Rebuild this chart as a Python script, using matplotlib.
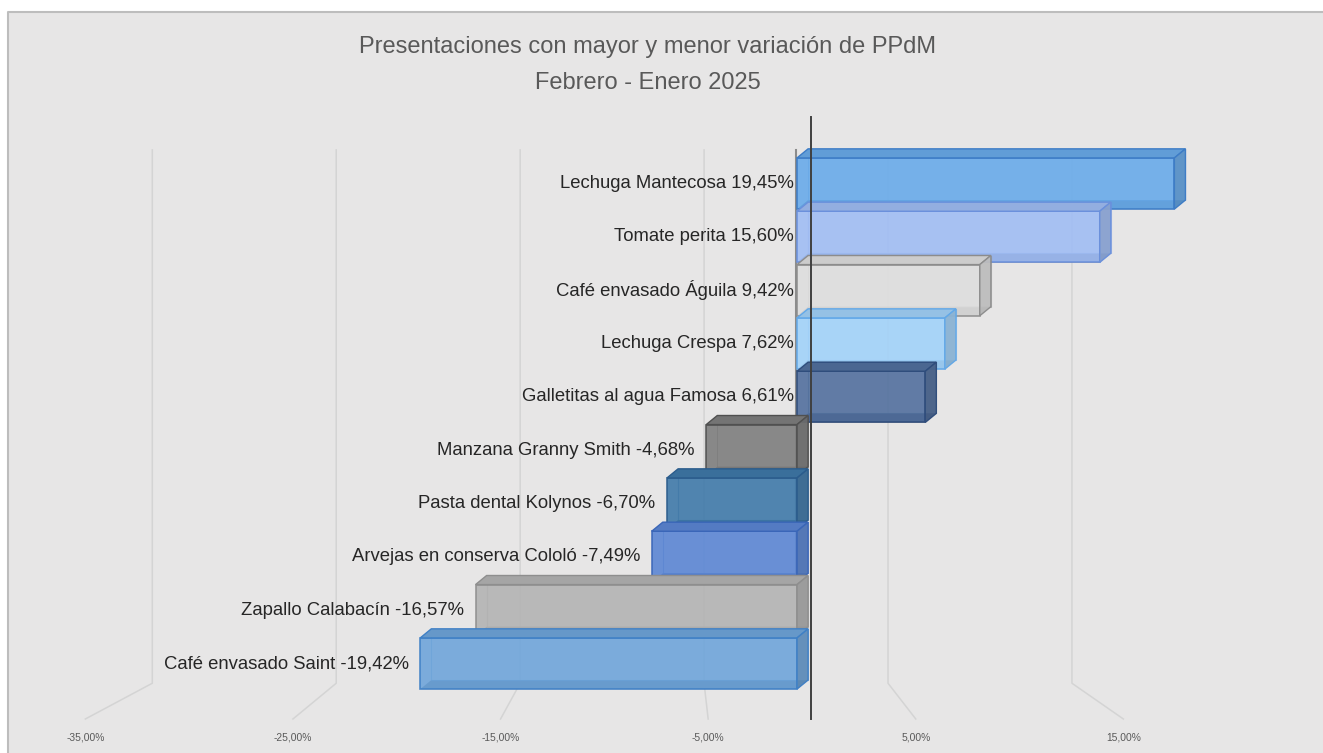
import matplotlib.pyplot as plt
import matplotlib.colors as mcolors
from matplotlib.patches import Polygon, Rectangle

# datos
productos = ["Lechuga Mantecosa", "Tomate perita", "Café envasado Águila",
             "Lechuga Crespa", "Galletitas al agua Famosa", "Manzana Granny Smith",
             "Pasta dental Kolynos", "Arvejas en conserva Cololó",
             "Zapallo Calabacín", "Café envasado Saint"]
variacion = [19.45, 15.60, 9.42, 7.62, 6.61, -4.68, -6.70, -7.49, -16.57, -19.42]
colores = ["#69ABEA", "#A0BDF4", "#DEDEDE", "#A2D2F9", "#52709E",
           "#7E7E7E", "#3F79A9", "#5B86D4", "#B3B3B3", "#6FA5DA"]
bordes = ["#3D7CC6", "#6A90DC", "#8C8C8C", "#62A8E8", "#2F4D7C",
          "#505050", "#2B5C8C", "#3A66B8", "#8E8E8E", "#3F80C6"]
ticks = [-35, -25, -15, -5, 5, 15]
titulo1 = "Presentaciones con mayor y menor variación de PPdM"
titulo2 = "Febrero - Enero 2025"

FUENTE = "Liberation Sans"


def fmt(v):
    return f"{v:.2f}%".replace(".", ",")


def tono(c, f):
    r, g, b = mcolors.to_rgb(c)
    if f < 1:
        return (r * f, g * f, b * f)
    f = f - 1
    return (r + (1 - r) * f, g + (1 - g) * f, b + (1 - b) * f)


# perspectiva aproximada del grafico 3D de Excel
def x_fondo(v):
    return -0.05 + 0.948 * v


def x_frente(v):
    return 0.77 + 1.070 * v


fig = plt.figure(figsize=(13.23, 7.53), dpi=100)
fig.patch.set_facecolor("white")
ax = fig.add_axes([0, 0, 1, 1])
ax.set_xlim(-41.08, 27.11)
ax.set_ylim(-1.678, 12.441)
ax.axis("off")

# area del grafico con borde arriba e izquierda
x_borde, y_borde = 8 / 1323, 1 - 12 / 753
ax.add_patch(Rectangle((x_borde, 0), 1 - x_borde, y_borde, transform=ax.transAxes,
                       facecolor="#E7E6E6", edgecolor="none", zorder=0))
ax.plot([x_borde, x_borde, 1], [0, y_borde, y_borde], transform=ax.transAxes,
        color="#BDBDBD", lw=1.5, zorder=0.5)

# lineas de division (pared del fondo + piso)
y_arriba, y_pared, y_piso = 9.63, -0.37, -1.04
for v in ticks:
    ax.plot([x_fondo(v), x_fondo(v), x_frente(v)], [y_arriba, y_pared, y_piso],
            color="#D4D4D4", lw=1.1, zorder=1)
    ax.text(x_frente(v), -1.38, fmt(v), ha="center", va="center", fontsize=7.4,
            color="#595959", family=FUENTE)
ax.plot([x_fondo(0), x_fondo(0)], [y_arriba, 1.5], color="#8C8C8C", lw=1.5, zorder=1)

# barras 3D
h, dx, dy = 0.96, 0.57, 0.17
pos = [len(productos) - 1 - i for i in range(len(productos))]
for i, (nombre, v) in enumerate(zip(productos, variacion)):
    c = pos[i]
    col, borde = colores[i], bordes[i]
    x0, x1 = min(0, v), max(0, v)
    yb, yt = c - h / 2, c + h / 2
    z = 2 + i
    ax.add_patch(Polygon([(x0, yb), (x1, yb), (x1 + dx, yb + dy), (x0 + dx, yb + dy)],
                         facecolor=tono(col, 0.45), edgecolor="none", zorder=z))
    ax.add_patch(Rectangle((x0 + dx, yb + dy), x1 - x0, h, facecolor="none",
                           edgecolor=borde, lw=0.8, alpha=0.6, zorder=z))
    ax.add_patch(Rectangle((x0, yb), x1 - x0, h, facecolor=col, edgecolor=borde,
                           lw=1.2, alpha=0.9, zorder=z))
    ax.add_patch(Polygon([(x0, yt), (x1, yt), (x1 + dx, yt + dy), (x0 + dx, yt + dy)],
                         facecolor=tono(col, 0.92), edgecolor=borde, lw=1.0, zorder=z))
    ax.add_patch(Polygon([(x1, yb), (x1 + dx, yb + dy), (x1 + dx, yt + dy), (x1, yt)],
                         facecolor=tono(col, 0.85), edgecolor=borde, lw=1.0, alpha=0.95, zorder=z))
    etiqueta = f"{nombre} {fmt(v)}"
    xt = -0.15 if v > 0 else v - 0.6
    ax.text(xt, c, etiqueta, ha="right", va="center", fontsize=13.3, color="#262626",
            family=FUENTE, zorder=20)

# eje vertical
ax.plot([0.72, 0.72], [10.25, -1.04], color="#404040", lw=1.4, zorder=30)

fig.text(647.5 / 1323, 1 - 47 / 753, titulo1, ha="center", va="center", fontsize=17,
         color="#595959", family=FUENTE)
fig.text(647.5 / 1323, 1 - 83 / 753, titulo2, ha="center", va="center", fontsize=17,
         color="#595959", family=FUENTE)

fig.savefig("out.png", dpi=100, facecolor=fig.get_facecolor())
